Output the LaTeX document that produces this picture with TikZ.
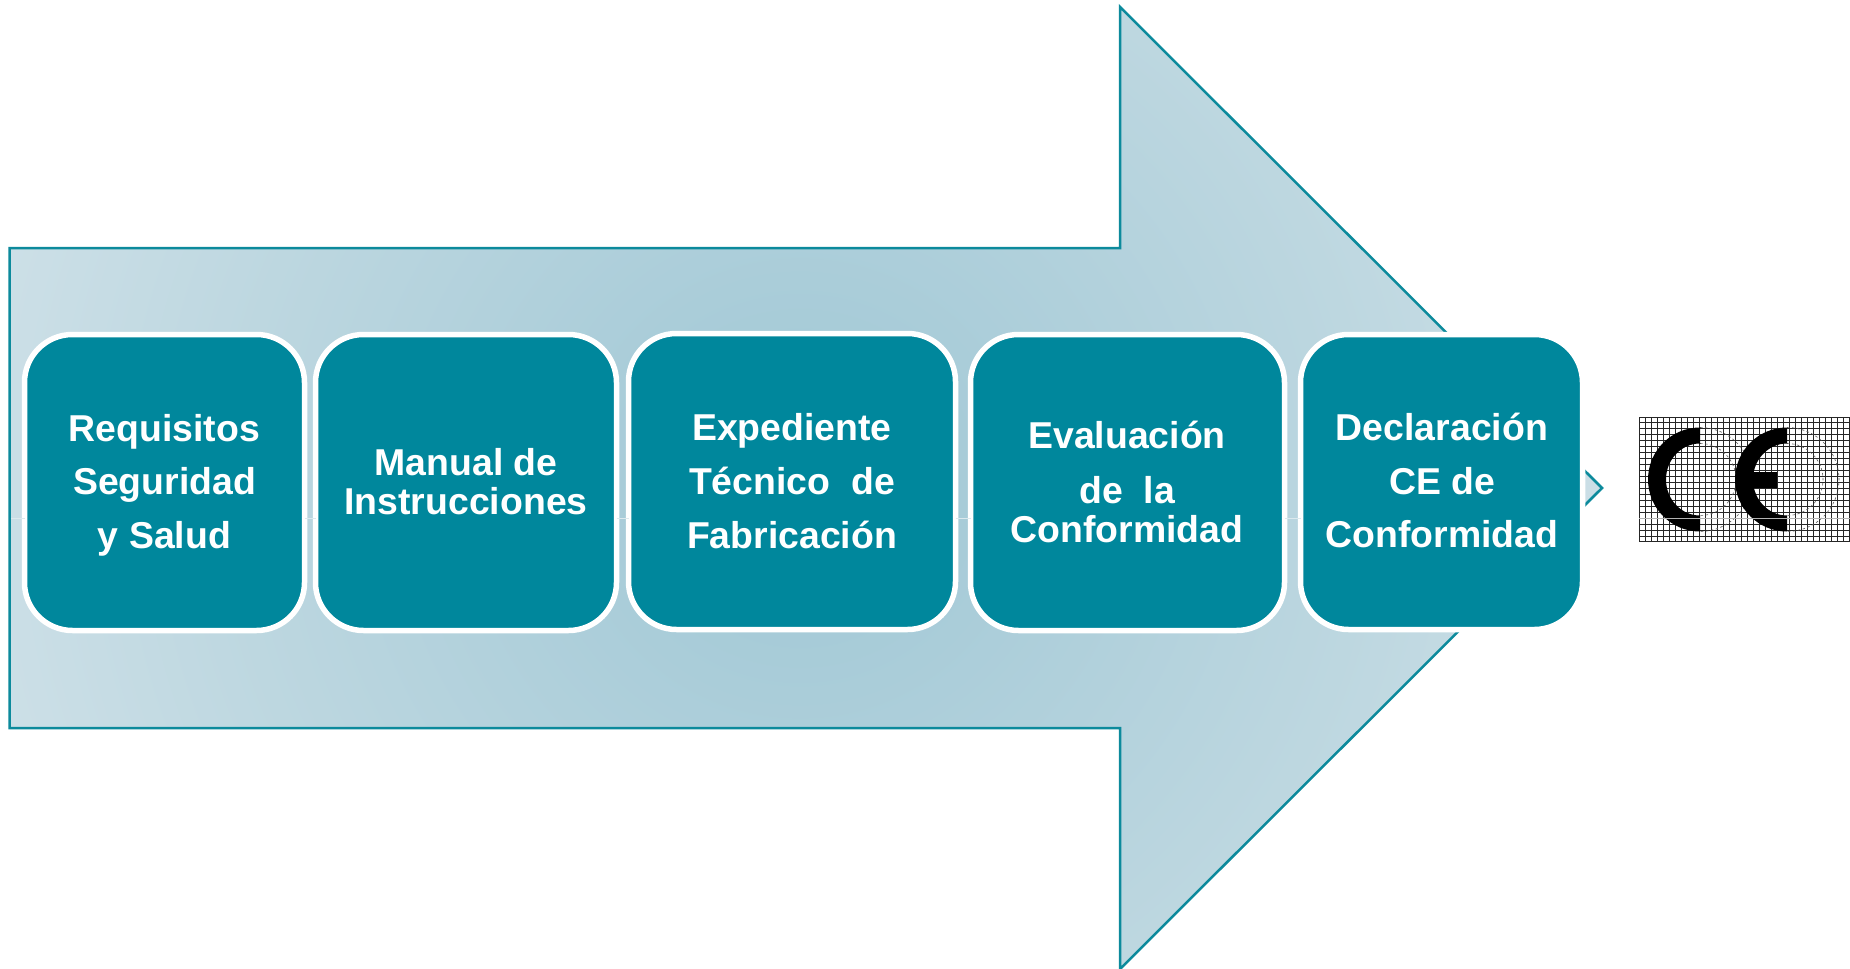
\documentclass[tikz,border=0pt]{standalone}
\usepackage{fontspec}
\setmainfont{Liberation Sans}
\definecolor{teal1}{HTML}{00879C}
\definecolor{edge1}{HTML}{0C8A9C}
\definecolor{hair1}{HTML}{DCE9EE}
\definecolor{sh0}{HTML}{9FC7D5}
\definecolor{sh1}{HTML}{BDD7E0}
\definecolor{sh2}{HTML}{DEE9EF}
\pgfdeclareradialshading{arrowshade}{\pgfpoint{0bp}{0bp}}{color(0bp)=(sh0); color(17.7bp)=(sh1); color(35.4bp)=(sh2); color(50bp)=(sh2)}
\tikzset{
  stepbox/.style={draw=white,fill=teal1,line width=5.5pt,rounded corners=48pt,inner sep=0pt,outer sep=0pt},
  lbl/.style={text=white,align=center,inner sep=0pt,outer sep=0pt},
  hair/.style={draw=hair1,line width=1pt},
}
\begin{document}
\begin{tikzpicture}[x=1pt,y=1pt,yscale=-1]
\useasboundingbox (0,0) rectangle (1850,969);
\fill[white] (0,0) rectangle (1850,969);
% arrow
\begin{scope}
\clip (9.5,248) -- (1120,248) -- (1120,7) -- (1602,488) -- (1120,969) -- (1120,728) -- (9.5,728) -- cycle;
\shade[shading=arrowshade] (0,-312) rectangle (1600,1288);
\end{scope}
\draw[edge1,line width=2.5pt,line join=miter] (9.5,248) -- (1120,248) -- (1120,7) -- (1602,488) -- (1120,969) -- (1120,728) -- (9.5,728) -- cycle;
% boxes
\node[stepbox,minimum width=280pt,minimum height=296pt] (b1) at (164.5,482.5) {};
\node[stepbox,minimum width=301pt,minimum height=296pt] (b2) at (466,482.5) {};
\node[stepbox,minimum width=327pt,minimum height=296pt] (b3) at (792,481.5) {};
\node[stepbox,minimum width=314pt,minimum height=296pt] (b4) at (1127.5,482.5) {};
\node[stepbox,minimum width=282pt,minimum height=295pt] (b5) at (1441.5,482) {};
% faint connectors
\coordinate (ls) at (10.75,518);
\draw[hair] (ls) -- (ls -| b1.west);
\draw[hair] (b1.east |- ls) -- (b2.west |- ls);
\draw[hair] (b2.east |- ls) -- (b3.west |- ls);
\draw[hair] (b3.east |- ls) -- (b4.west |- ls);
\draw[hair] (b4.east |- ls) -- (b5.west |- ls);
% labels
\node[lbl,font=\bfseries\fontsize{37.4}{53.5}\selectfont] (t1) at (164.5,485) {Requisitos\\Seguridad\\y Salud};
\node[lbl,font=\bfseries\fontsize{37.4}{39}\selectfont] (t2) at (466,481.5) {Manual de\\Instrucciones};
\node[lbl,font=\bfseries\fontsize{37.4}{54}\selectfont] (t3) at (792,481) {Expediente\\Técnico\ \ de\\Fabricación};
\node[lbl,font=\bfseries\fontsize{37.4}{55}\selectfont] (t4) at (1127,481.5) {Evaluación\\[0pt]de\ \ la\\[-16pt]Conformidad};
\node[lbl,font=\bfseries\fontsize{37.4}{53.5}\selectfont] (t5) at (1442,480.5) {Declaración\\CE de\\Conformidad};
% CE mark
\foreach \i in {0,...,35} \draw[black!85,line width=1pt] ({1639+\i*6},417) -- ({1639+\i*6},542);
\foreach \j in {0,...,21} \draw[black!85,line width=1pt] (1639,{417+\j*5.95}) -- (1849,{417+\j*5.95});
\foreach \cx in {1700,1787} {
  \draw[black!65,line width=0.6pt,dash pattern=on 2.5pt off 2.5pt] (\cx,427.5) arc (270:450:52);
  \draw[black!65,line width=0.6pt,dash pattern=on 2.5pt off 2.5pt] (\cx,443.5) arc (270:450:36);
  \fill[black] (\cx,427.5) arc (270:90:52) -- (\cx,515.5) arc [start angle=90,end angle=270,x radius=34,y radius=36] -- cycle;
}
\fill[black] (1750,472) rectangle (1777,488);
\draw[black!30,line width=1pt] (1639,518) -- (1850,518);
\end{tikzpicture}
\end{document}
